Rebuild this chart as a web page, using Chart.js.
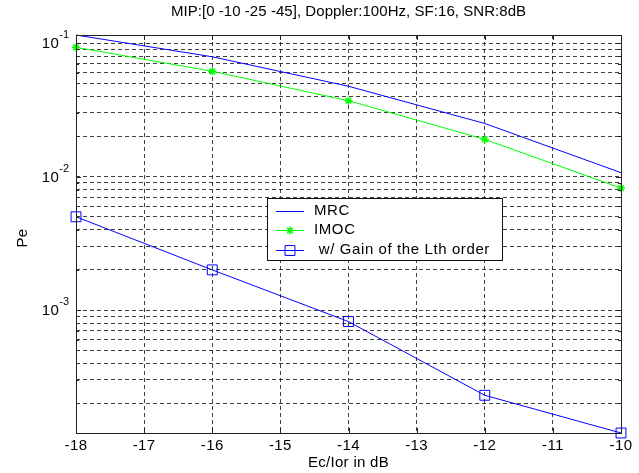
<!DOCTYPE html>
<html>
<head>
<meta charset="utf-8">
<script src="https://cdn.jsdelivr.net/npm/chart.js@4/dist/chart.umd.min.js"></script>
<style>
  html, body { margin: 0; padding: 0; background: #fff; }
  #wrap { position: relative; width: 639px; height: 473px; }
</style>
</head>
<body>
<div id="wrap"><canvas id="c" width="639" height="473"></canvas></div>
<script>
// Ec/Ior (dB) sample points
const ecIor = [-18, -16, -14, -12, -10];
// Error probability for each receiver
const mrc = [0.115, 0.079, 0.0475, 0.025, 0.0107];
const imoc = [0.093, 0.0615, 0.037, 0.019, 0.0082];
const gainLth = [0.005, 0.002, 0.00082, 0.00023, 0.00012];

const seriesNames = ['MRC', 'IMOC', ' w/ Gain of the Lth order'];
const titleText = 'MIP:[0 -10 -25 -45], Doppler:100Hz, SF:16, SNR:8dB';
const xTitle = 'Ec/Ior in dB';
const yTitle = 'Pe';

const xTicks = [-18, -17, -16, -15, -14, -13, -12, -11, -10];
const yDecades = [1e-3, 1e-2, 1e-1];
const yDecadeLabels = ['-3', '-2', '-1'];
const yRange = [1.2e-4, 0.115];

// grid positions: every 1..9 multiple inside each decade
const yGridTicks = [];
[1e-4, 1e-3, 1e-2, 1e-1].forEach(d => {
  for (let m = 1; m <= 9; m++) {
    const v = m * d;
    if (v >= yRange[0] && v <= yRange[1]) yGridTicks.push(v);
  }
});

const FONT = '"Liberation Sans", Arial, Helvetica, sans-serif';
const GRID = 'rgba(30,30,30,0.85)';

const toXY = (ys) => ecIor.map((x, i) => ({ x: x, y: ys[i] }));

function setFont(ctx, size, spacing) {
  ctx.font = size + 'px ' + FONT;
  if ('letterSpacing' in ctx) ctx.letterSpacing = spacing + 'px';
}

function centerText(ctx, text, cx, cy) {
  const w = ctx.measureText(text).width;
  ctx.textAlign = 'left';
  ctx.fillText(text, cx - w / 2, cy);
}

const decorations = {
  id: 'decorations',
  afterDatasetsDraw(chart) {
    const { ctx, chartArea: a, scales: { x, y } } = chart;
    ctx.save();
    // axes box
    ctx.strokeStyle = '#222';
    ctx.lineWidth = 1;
    ctx.setLineDash([]);
    ctx.strokeRect(Math.round(a.left) + 0.5, Math.round(a.top) + 0.5,
      Math.round(a.right - a.left), Math.round(a.bottom - a.top));
    // inward tick marks
    ctx.beginPath();
    xTicks.forEach(v => {
      const px = Math.round(x.getPixelForValue(v)) + 0.5;
      ctx.moveTo(px, a.bottom); ctx.lineTo(px, a.bottom - 5);
      ctx.moveTo(px, a.top); ctx.lineTo(px, a.top + 5);
    });
    yGridTicks.forEach(v => {
      const py = Math.round(y.getPixelForValue(v)) + 0.5;
      const len = yDecades.includes(v) ? 5 : 3;
      ctx.moveTo(a.left, py); ctx.lineTo(a.left + len, py);
      ctx.moveTo(a.right, py); ctx.lineTo(a.right - len, py);
    });
    ctx.stroke();

    ctx.fillStyle = '#000';
    ctx.textBaseline = 'middle';
    // x tick labels
    setFont(ctx, 15, 0.4);
    xTicks.forEach(v => centerText(ctx, String(v), x.getPixelForValue(v), a.bottom + 13));
    // y tick labels 10^n
    yDecades.forEach((v, i) => {
      const py = y.getPixelForValue(v);
      setFont(ctx, 11, 0);
      const ew = ctx.measureText(yDecadeLabels[i]).width;
      ctx.textAlign = 'left';
      const ex = a.left - 7 - ew;
      ctx.fillText(yDecadeLabels[i], ex, py - 8);
      setFont(ctx, 15, 0.4);
      const bw = ctx.measureText('10').width;
      ctx.fillText('10', ex - bw, py + 1);
    });
    // titles
    setFont(ctx, 15, 0.05);
    centerText(ctx, titleText, (a.left + a.right) / 2, 12);
    setFont(ctx, 15, 0.3);
    centerText(ctx, xTitle, (a.left + a.right) / 2, 463);
    ctx.save();
    ctx.translate(23, 238);
    ctx.rotate(-Math.PI / 2);
    centerText(ctx, yTitle, 0, 0);
    ctx.restore();
    ctx.restore();
  },
  afterDraw(chart) {
    // legend box
    const { ctx } = chart;
    const box = { x: 267, y: 198, w: 235, h: 62 };
    ctx.save();
    ctx.fillStyle = '#fff';
    ctx.fillRect(box.x, box.y, box.w, box.h);
    ctx.strokeStyle = '#111';
    ctx.lineWidth = 1;
    ctx.strokeRect(box.x + 0.5, box.y + 0.5, box.w, box.h);
    chart.data.datasets.forEach((ds, i) => {
      const cy = box.y + 12.5 + i * 19.5;
      const ly = Math.round(cy) + 0.5;
      ctx.strokeStyle = ds.borderColor;
      ctx.lineWidth = 1;
      ctx.beginPath();
      ctx.moveTo(276, ly);
      ctx.lineTo(304, ly);
      ctx.stroke();
      if (ds.pointRadius > 0) {
        ctx.fillStyle = ds.pointBackgroundColor;
        ctx.strokeStyle = ds.pointBorderColor;
        ctx.lineWidth = ds.pointBorderWidth;
        Chart.helpers.drawPoint(ctx, {
          pointStyle: ds.pointStyle, radius: ds.pointRadius, rotation: 0,
          borderWidth: ds.pointBorderWidth
        }, 290, ly);
      }
      ctx.fillStyle = '#000';
      ctx.textBaseline = 'middle';
      setFont(ctx, 15, 0.6);
      ctx.textAlign = 'left';
      ctx.fillText(ds.label, 314, cy);
    });
    ctx.restore();
  }
};

new Chart(document.getElementById('c'), {
  type: 'line',
  data: {
    datasets: [
      { label: seriesNames[0], data: toXY(mrc), borderColor: '#0000ff', borderWidth: 1,
        pointRadius: 0, pointStyle: 'line', tension: 0, clip: false },
      { label: seriesNames[1], data: toXY(imoc), borderColor: '#00ff00', borderWidth: 1,
        pointRadius: 4, pointStyle: 'star', pointBorderColor: '#00ff00', pointBorderWidth: 1.5,
        pointBackgroundColor: '#00ff00', tension: 0, clip: false },
      { label: seriesNames[2], data: toXY(gainLth), borderColor: '#0000ff', borderWidth: 1,
        pointRadius: 7, pointStyle: 'rect', pointBorderColor: '#0000ff', pointBorderWidth: 1,
        pointBackgroundColor: 'rgba(0,0,0,0)', tension: 0, clip: false }
    ]
  },
  options: {
    responsive: false,
    animation: false,
    devicePixelRatio: 1,
    layout: { padding: { left: 76, top: 35, right: 18, bottom: 40 } },
    plugins: { legend: { display: false }, title: { display: false }, tooltip: { enabled: false } },
    scales: {
      x: {
        type: 'linear', min: -18, max: -10,
        afterBuildTicks: s => { s.ticks = xTicks.map(v => ({ value: v })); },
        ticks: { display: false },
        grid: { color: GRID, lineWidth: 1, drawTicks: false },
        border: { display: false, dash: [4, 3] }
      },
      y: {
        type: 'logarithmic', min: yRange[0], max: yRange[1],
        afterBuildTicks: s => { s.ticks = yGridTicks.map(v => ({ value: v })); },
        ticks: { display: false },
        grid: { color: GRID, lineWidth: 1, drawTicks: false },
        border: { display: false, dash: [4, 3] }
      }
    }
  },
  plugins: [decorations]
});
</script>
</body>
</html>
